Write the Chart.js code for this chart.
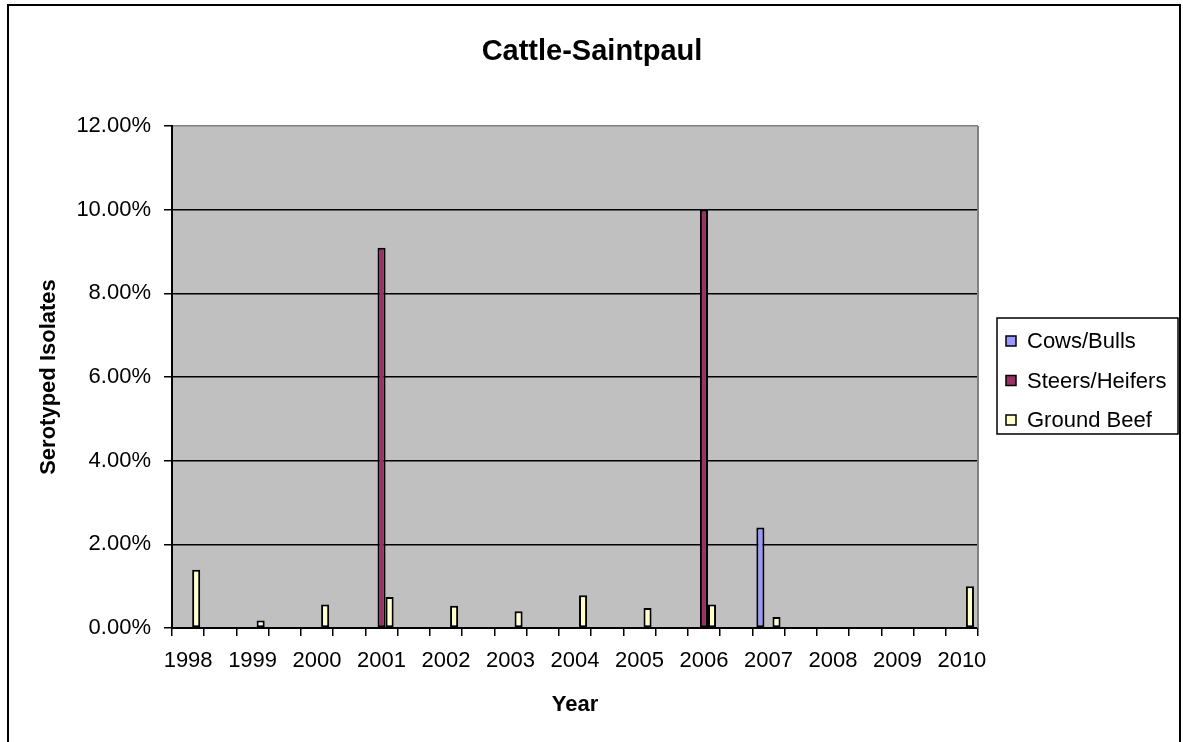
<!DOCTYPE html>
<html>
<head>
<meta charset="utf-8">
<script src="https://cdn.jsdelivr.net/npm/chart.js@4"></script>
<style>
  html, body { margin: 0; padding: 0; background: #fff; }
  #wrap { position: relative; width: 1183px; height: 742px; }
</style>
</head>
<body>
<div id="wrap"><canvas id="grafico"></canvas></div>
<script>
// dados (% de isolados sorotipados)
const years = ['1998','1999','2000','2001','2002','2003','2004','2005','2006','2007','2008','2009','2010'];
const cowsBulls     = [null, null, null, null, null, null, null, null, null, 2.40, null, null, null];
const steersHeifers = [null, null, null, 9.09, null, null, null, null, 10.00, null, null, null, null];
const groundBeef    = [1.39, 0.18, 0.56, 0.74, 0.53, 0.40, 0.78, 0.48, 0.56, 0.26, null, null, 1.00];
const yTicks = [0, 2, 4, 6, 8, 10, 12];

const FONT = '"Liberation Sans", Arial, sans-serif';

// o eixo do Excel tem uma categoria vazia entre cada ano
const pad = arr => arr.flatMap((v, i) => i < arr.length - 1 ? [v, null] : [v]);
const labels = years.flatMap((y, i) => i < years.length - 1 ? [y, ''] : [y]);

const fundoPlot = {
    id: 'fundoPlot',
    beforeDraw: chart => {
        const { ctx, chartArea: a } = chart;
        ctx.save();
        ctx.fillStyle = '#C0C0C0';
        ctx.fillRect(a.left, a.top, a.right - a.left, a.bottom - a.top);
        ctx.restore();
    },
    beforeDatasetsDraw: chart => {
        const { ctx, chartArea: a } = chart;
        ctx.save();
        ctx.strokeStyle = '#808080';
        ctx.lineWidth = 2;
        ctx.beginPath();
        ctx.moveTo(a.right, a.top);
        ctx.lineTo(a.right, a.bottom);
        ctx.stroke();
        ctx.restore();
    },
    afterDraw: chart => {
        const ctx = chart.ctx;
        ctx.save();
        // moldura externa
        ctx.strokeStyle = '#000';
        ctx.lineWidth = 2;
        ctx.beginPath();
        ctx.moveTo(8, 760);
        ctx.lineTo(8, 5);
        ctx.lineTo(1180, 5);
        ctx.lineTo(1180, 760);
        ctx.stroke();

        // titulo
        ctx.fillStyle = '#000';
        ctx.font = 'bold 29px ' + FONT;
        ctx.textAlign = 'center';
        ctx.textBaseline = 'middle';
        ctx.fillText('Cattle-Saintpaul', 592, 52);

        // legenda
        ctx.lineWidth = 1.5;
        ctx.strokeRect(997, 318, 181, 116);
        ctx.font = '22px ' + FONT;
        ctx.textAlign = 'left';
        chart.data.datasets.forEach((ds, i) => {
            const y = 341 + i * 39.5;
            ctx.fillStyle = ds.backgroundColor;
            ctx.fillRect(1006, y - 5, 10, 10);
            ctx.lineWidth = 1.5;
            ctx.strokeStyle = '#000';
            ctx.strokeRect(1006, y - 5, 10, 10);
            ctx.fillStyle = '#000';
            ctx.fillText(ds.label, 1027, y + 1);
        });
        ctx.restore();
    }
};

const barra = { borderColor: '#000', borderWidth: 2, borderSkipped: false };

new Chart(document.getElementById('grafico'), {
    type: 'bar',
    data: {
        labels: labels,
        datasets: [
            { label: 'Cows/Bulls', data: pad(cowsBulls), backgroundColor: '#9999FF', ...barra },
            { label: 'Steers/Heifers', data: pad(steersHeifers), backgroundColor: '#993366', ...barra },
            { label: 'Ground Beef', data: pad(groundBeef), backgroundColor: '#FFFFCC', ...barra }
        ]
    },
    options: {
        responsive: true,
        maintainAspectRatio: false,
        animation: false,
        datasets: { bar: { categoryPercentage: 0.75, barPercentage: 1 } },
        layout: { padding: { top: 126, right: 205, bottom: 0, left: 0 } },
        plugins: {
            legend: { display: false },
            title: { display: false },
            tooltip: { enabled: false }
        },
        scales: {
            x: {
                afterFit: s => { s.height = 114; },
                grid: {
                    offset: true,
                    drawOnChartArea: false,
                    color: '#000',
                    lineWidth: 1.5,
                    tickLength: 8
                },
                border: { display: true, color: '#000', width: 2 },
                ticks: {
                    autoSkip: false,
                    maxRotation: 0,
                    padding: 12,
                    color: '#000',
                    font: { family: FONT, size: 22 }
                },
                title: {
                    display: true,
                    text: 'Year',
                    color: '#000',
                    font: { family: FONT, size: 22, weight: 'bold' },
                    padding: { top: 0, bottom: 24 }
                }
            },
            y: {
                min: 0,
                max: 12,
                afterFit: s => { s.width = 172; },
                afterBuildTicks: s => { s.ticks = yTicks.map(v => ({ value: v })); },
                grid: {
                    color: c => (c.tick && c.tick.value === 12) ? '#808080' : '#000',
                    tickColor: '#000',
                    lineWidth: 1.5,
                    tickLength: 8
                },
                border: { display: true, color: '#000', width: 2 },
                ticks: {
                    padding: 13,
                    color: '#000',
                    font: { family: FONT, size: 22 },
                    callback: v => v.toFixed(2) + '%'
                },
                title: {
                    display: true,
                    text: 'Serotyped Isolates',
                    color: '#000',
                    font: { family: FONT, size: 22, weight: 'bold' },
                    padding: { top: 36, bottom: 0 }
                }
            }
        }
    },
    plugins: [fundoPlot]
});
</script>
</body>
</html>
